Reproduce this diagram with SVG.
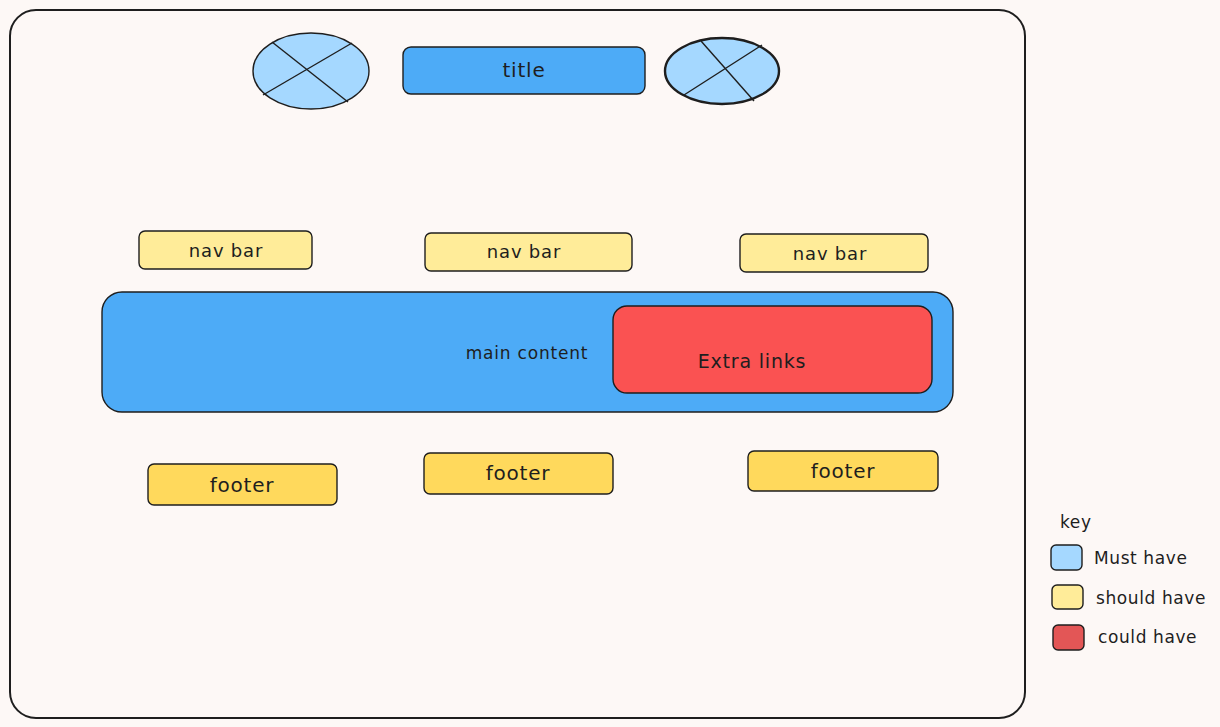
<svg xmlns="http://www.w3.org/2000/svg" width="1220" height="727" viewBox="0 0 1220 727">
<style>
.t{font-family:"DejaVu Sans","Liberation Sans",sans-serif;fill:#1e1e1e;text-anchor:middle;dominant-baseline:central;letter-spacing:0.8px}
.k{font-family:"DejaVu Sans","Liberation Sans",sans-serif;fill:#1e1e1e;dominant-baseline:central;font-size:17px;letter-spacing:0.6px}
.s{stroke:#1e1e1e;stroke-width:1.4}
.must{fill:#a5d8ff}
.blue{fill:#4dabf7}
.should{fill:#ffec99}
.foot{fill:#ffd95c}
.could{fill:#fa5252}
</style>
<rect width="1220" height="727" fill="#fdf8f6"/>
<g id="frame"><rect x="10" y="10" width="1015" height="708" rx="26" fill="none" stroke="#1e1e1e" stroke-width="2"/></g>
<g id="logo-left">
<ellipse cx="311" cy="71" rx="58" ry="38" class="must s"/>
<line x1="272" y1="42" x2="348" y2="102" class="s"/>
<line x1="263" y1="95" x2="352" y2="43" class="s"/>
</g>
<g id="title">
<rect x="403" y="47" width="242" height="47" rx="8" class="blue s"/>
<text x="524" y="70" class="t" font-size="20">title</text>
</g>
<g id="logo-right">
<ellipse cx="722" cy="71" rx="57" ry="33" class="must" stroke="#1e1e1e" stroke-width="2.4"/>
<line x1="701" y1="41" x2="754" y2="101" class="s"/>
<line x1="684" y1="95" x2="762" y2="45" class="s"/>
</g>
<g id="nav1"><rect x="139" y="231" width="173" height="38" rx="6" class="should s"/><text x="226" y="250" class="t" font-size="18">nav bar</text></g>
<g id="nav2"><rect x="425" y="233" width="207" height="38" rx="6" class="should s"/><text x="524" y="251" class="t" font-size="18">nav bar</text></g>
<g id="nav3"><rect x="740" y="234" width="188" height="38" rx="6" class="should s"/><text x="830" y="253" class="t" font-size="18">nav bar</text></g>
<g id="main-content">
<rect x="102" y="292" width="851" height="120" rx="20" class="blue s"/>
<text x="527" y="353" class="t" font-size="17">main content</text>
</g>
<g id="extra-links">
<rect x="613" y="306" width="319" height="87" rx="14" class="could s"/>
<text x="752" y="361" class="t" font-size="19">Extra links</text>
</g>
<g id="footer1"><rect x="148" y="464" width="189" height="41" rx="6" class="foot s" stroke-width="2"/><text x="242" y="485" class="t" font-size="20">footer</text></g>
<g id="footer2"><rect x="424" y="453" width="189" height="41" rx="6" class="foot s"/><text x="518" y="473" class="t" font-size="20">footer</text></g>
<g id="footer3"><rect x="748" y="451" width="190" height="40" rx="6" class="foot s" stroke-width="2"/><text x="843" y="471" class="t" font-size="20">footer</text></g>
<g id="key">
<text x="1060" y="522" class="k" font-size="16">key</text>
<rect x="1051" y="545" width="31" height="25" rx="5" class="must s"/>
<text x="1094" y="558" class="k">Must have</text>
<rect x="1052" y="585" width="31" height="24" rx="5" class="should s"/>
<text x="1096" y="598" class="k">should have</text>
<rect x="1053" y="625" width="31" height="25" rx="5" fill="#e35656" class="s"/>
<text x="1098" y="637" class="k">could have</text>
</g>
</svg>
